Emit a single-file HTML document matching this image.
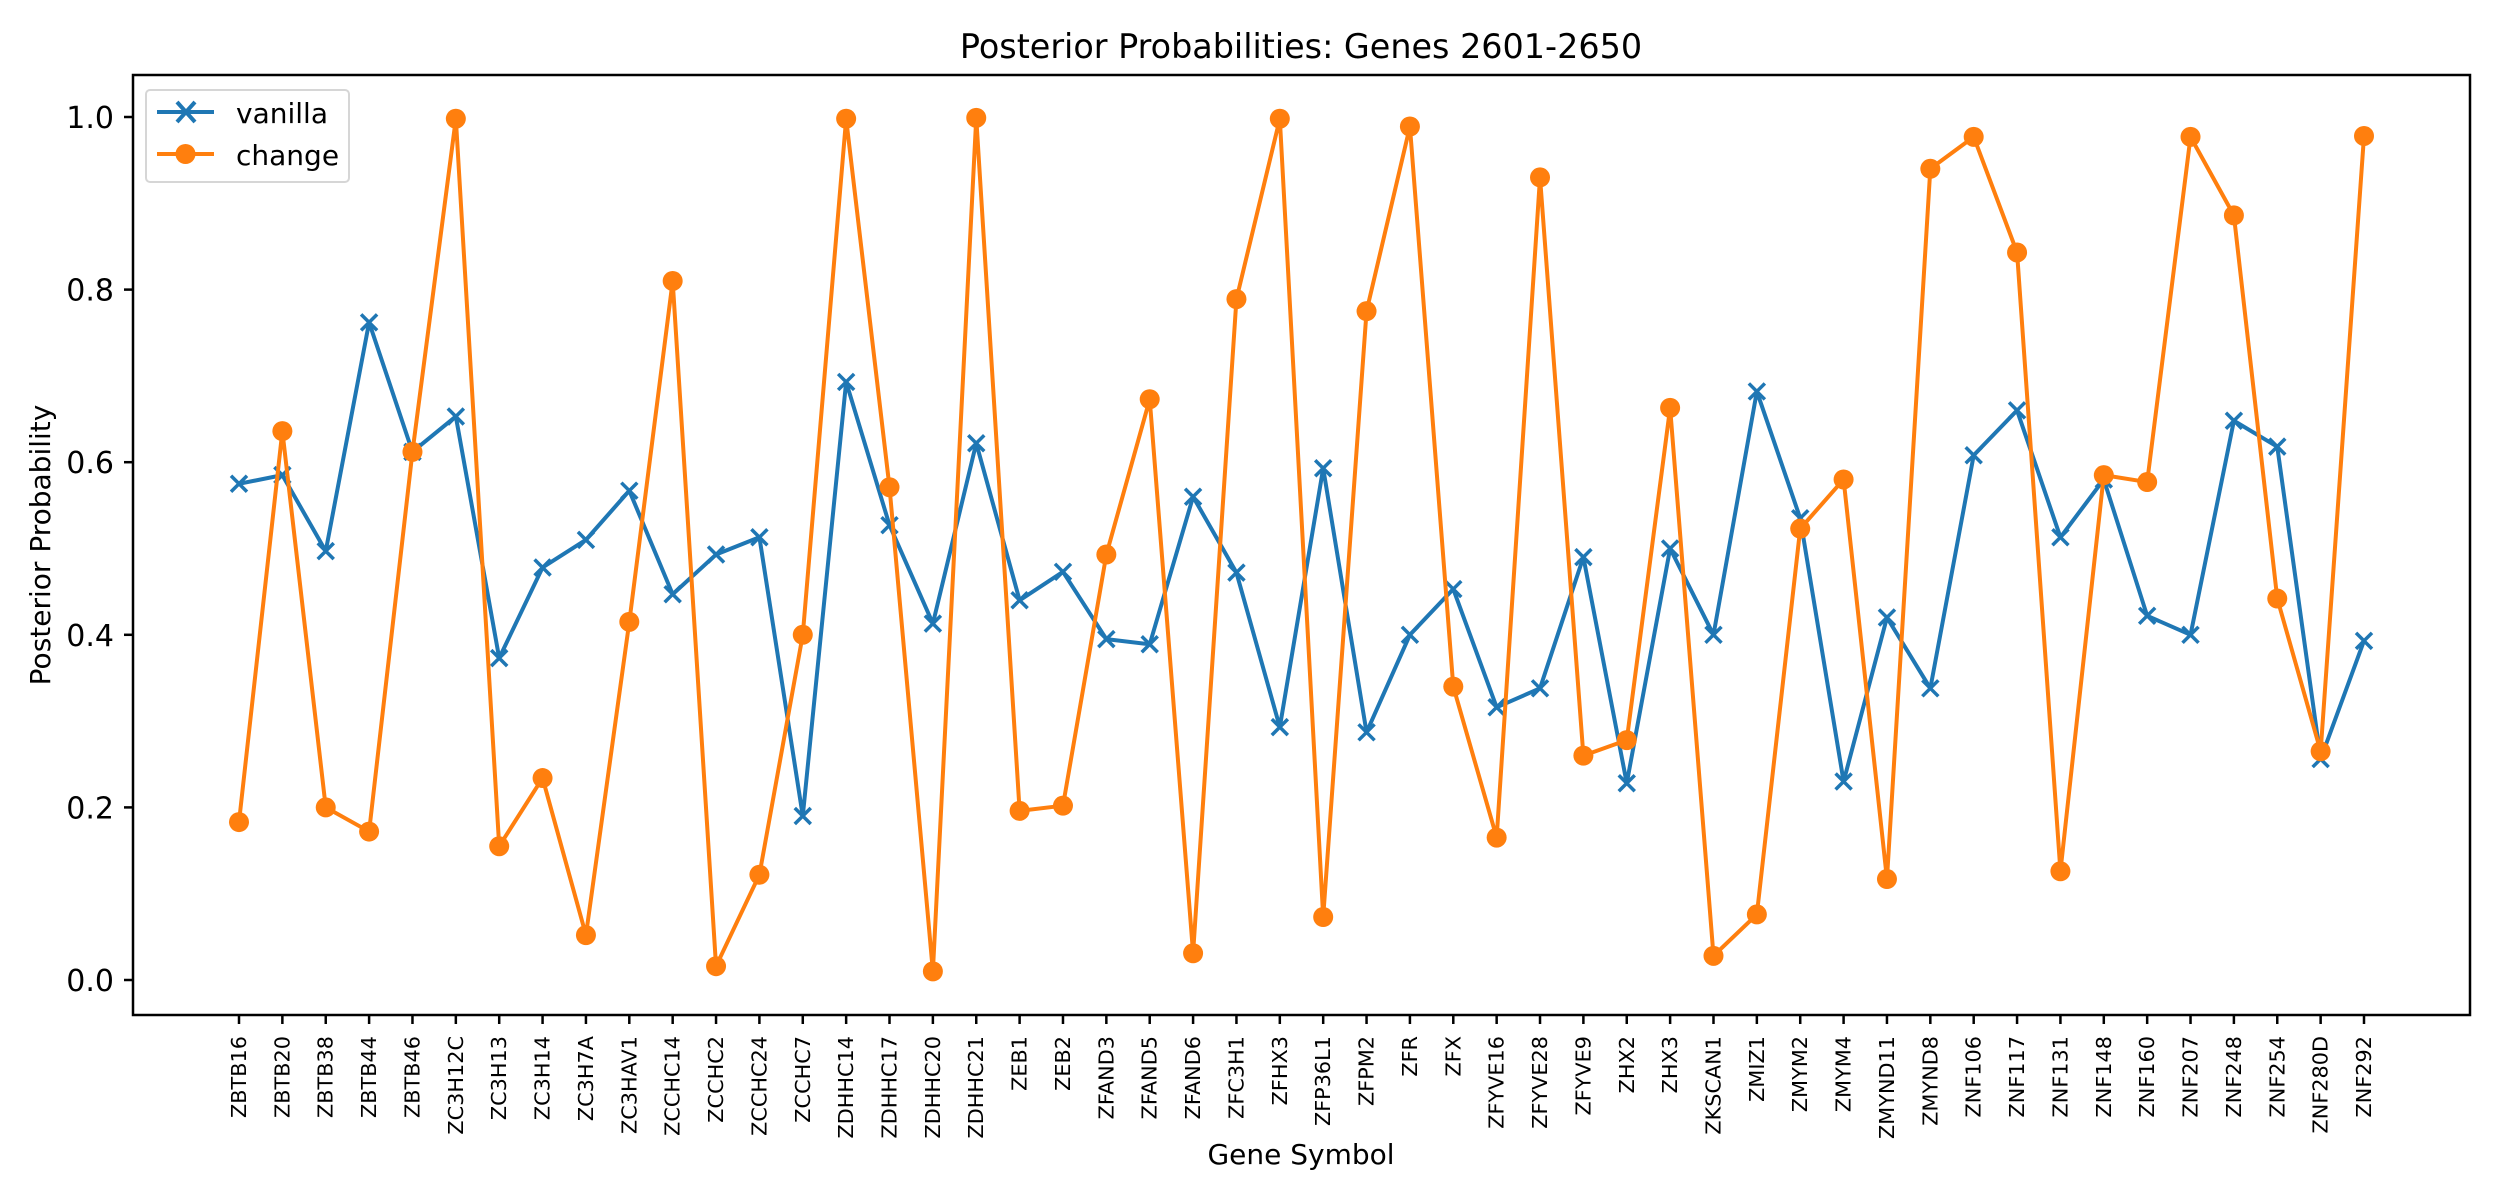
<!DOCTYPE html>
<html><head><meta charset="utf-8"><style>
html,body{margin:0;padding:0;background:#fff;}
svg{display:block;font-family:"DejaVu Sans","Liberation Sans",sans-serif;}
</style></head><body>
<svg id="chart" width="2500" height="1200" viewBox="0 0 2500 1200" xmlns="http://www.w3.org/2000/svg">
<rect width="2500" height="1200" fill="#fff"/>
<text x="1301" y="58" font-size="33.4" text-anchor="middle">Posterior Probabilities: Genes 2601-2650</text>
<text x="1301" y="1164" font-size="28" text-anchor="middle">Gene Symbol</text>
<text transform="translate(50,545) rotate(-90)" font-size="28" text-anchor="middle">Posterior Probability</text>
<g id="plot"></g>
<rect x="133" y="75" width="2337" height="940" fill="none" stroke="#000" stroke-width="2.5"/>
<g>
<rect x="146" y="90" width="203" height="92" rx="4" fill="#fff" fill-opacity="0.8" stroke="#d6d6d6" stroke-width="2"/>
<line x1="157" y1="112" x2="214" y2="112" stroke="#1f77b4" stroke-width="4"/>
<path d="M177,102 L195,122 M195,102 L177,122" stroke="#1f77b4" stroke-width="4"/>
<text x="236" y="123" font-size="28">vanilla</text>
<line x1="157" y1="154" x2="214" y2="154" stroke="#ff7f0e" stroke-width="4"/>
<circle cx="185.5" cy="154" r="10" fill="#ff7f0e"/>
<text x="236" y="165" font-size="28">change</text>
</g>
</svg>
<script>
const genes=["ZBTB16","ZBTB20","ZBTB38","ZBTB44","ZBTB46","ZC3H12C","ZC3H13","ZC3H14","ZC3H7A","ZC3HAV1","ZCCHC14","ZCCHC2","ZCCHC24","ZCCHC7","ZDHHC14","ZDHHC17","ZDHHC20","ZDHHC21","ZEB1","ZEB2","ZFAND3","ZFAND5","ZFAND6","ZFC3H1","ZFHX3","ZFP36L1","ZFPM2","ZFR","ZFX","ZFYVE16","ZFYVE28","ZFYVE9","ZHX2","ZHX3","ZKSCAN1","ZMIZ1","ZMYM2","ZMYM4","ZMYND11","ZMYND8","ZNF106","ZNF117","ZNF131","ZNF148","ZNF160","ZNF207","ZNF248","ZNF254","ZNF280D","ZNF292"];
const vanilla=[0.575,0.585,0.497,0.762,0.612,0.653,0.373,0.478,0.51,0.567,0.447,0.493,0.513,0.19,0.693,0.527,0.413,0.622,0.44,0.473,0.395,0.389,0.56,0.472,0.293,0.593,0.287,0.4,0.453,0.316,0.338,0.49,0.228,0.5,0.4,0.682,0.535,0.23,0.42,0.338,0.608,0.66,0.513,0.58,0.422,0.4,0.648,0.618,0.256,0.393];
const change=[0.183,0.636,0.2,0.172,0.612,0.998,0.155,0.234,0.052,0.415,0.81,0.016,0.122,0.4,0.998,0.571,0.01,0.999,0.196,0.202,0.493,0.673,0.031,0.789,0.998,0.073,0.775,0.989,0.34,0.165,0.93,0.26,0.278,0.663,0.028,0.076,0.523,0.58,0.117,0.94,0.977,0.843,0.126,0.585,0.577,0.977,0.886,0.442,0.265,0.978];
const yTicks=["0.0","0.2","0.4","0.6","0.8","1.0"];
const NS="http://www.w3.org/2000/svg";
const g=document.getElementById('plot');
function xs(i){return 239+i*(2364-239)/49;}
function ys(v){return 980-v*863;}
function mk(t,a){const e=document.createElementNS(NS,t);for(const k in a)e.setAttribute(k,a[k]);g.appendChild(e);return e;}
yTicks.forEach(t=>{const y=ys(parseFloat(t));
 const l=mk('line',{x1:124,x2:133,y1:y,y2:y,stroke:'#000','stroke-width':2.5});
 
 
 const tx=mk('text',{x:114,y:y+11,'font-size':30,'text-anchor':'end'});tx.textContent=t;
 
 
});
genes.forEach((n,i)=>{const x=xs(i);
 const l=mk('line',{x1:x,x2:x,y1:1015,y2:1024,stroke:'#000','stroke-width':2.5});
 
 
 const tx=mk('text',{transform:`translate(${x+7},1036) rotate(-90)`,'font-size':20.8,'text-anchor':'end'});tx.textContent=n;
 
 
});
function series(arr,color,name,marker){
 const p=mk('polyline',{points:arr.map((v,i)=>xs(i)+','+ys(v)).join(' '),fill:'none',stroke:color,'stroke-width':4,'stroke-linejoin':'round'});
 
 
 arr.forEach((v,i)=>{const x=xs(i),y=ys(v);let m;
  if(marker==='x'){m=mk('path',{d:`M${x-8},${y-8}L${x+8},${y+8}M${x+8},${y-8}L${x-8},${y+8}`,stroke:color,'stroke-width':3.5});}
  else{m=mk('circle',{cx:x,cy:y,r:10,fill:color});}
  
  
 });
}
series(vanilla,'#1f77b4','vanilla','x');
series(change,'#ff7f0e','change','o');
</script>
</body></html>
